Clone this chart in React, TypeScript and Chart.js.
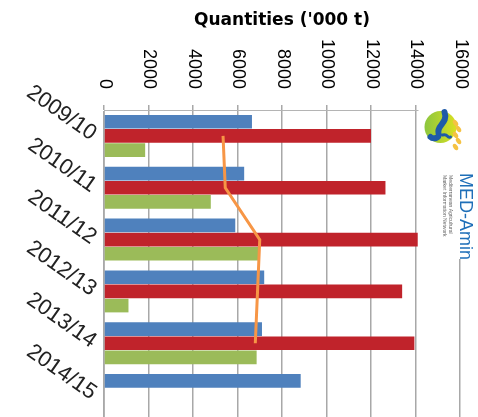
import React, { useEffect, useRef } from 'react';
import { Chart, registerables } from 'chart.js';

Chart.register(...registerables);

const categories = ['2009/10', '2010/11', '2011/12', '2012/13', '2013/14', '2014/15'];
const blueValues = [6650, 6300, 5900, 7200, 7100, 8840];
const redValues = [12000, 12650, 14100, 13400, 13950, null];
const greenValues = [1850, 4800, 7000, 1100, 6860, null];
const lineValues = [5350, 5450, 7000, 6900, 6800, null];
const xMin = 0;
const xMax = 16000;
const xStep = 2000;

const titleText = "Quantities ('000 t)";
const logoTitle = 'MED-Amin';
const logoSub1 = 'Mediterranean Agricultural';
const logoSub2 = 'Market Information Network';

const logoPlugin = {
  id: 'medAminLogo',
  afterDraw(chart: any) {
    const { ctx, chartArea, scales } = chart;
    const xs = scales.x;
    const left = xs.getPixelForValue(14000) + 3;
    const right = left + 55;
    const top = chartArea.top - 6;
    const bottom = chartArea.top + 149;
    ctx.save();
    ctx.fillStyle = '#ffffff';
    ctx.fillRect(left, top, right - left, bottom - top);
    const cx = left + 22;
    const cy = chartArea.top + 17;
    const r = 16;
    const g = ctx.createLinearGradient(cx - r, cy, cx + r, cy);
    g.addColorStop(0, '#8cc63f');
    g.addColorStop(1, '#d9e021');
    ctx.fillStyle = g;
    ctx.beginPath();
    ctx.arc(cx, cy, r, 0, Math.PI * 2);
    ctx.fill();
    ctx.strokeStyle = '#1e5aa8';
    ctx.lineWidth = 6;
    ctx.lineCap = 'round';
    ctx.beginPath();
    ctx.moveTo(cx + 4, cy - r + 1);
    ctx.bezierCurveTo(cx + 8, cy - 4, cx - 4, cy - 2, cx - 2, cy + 6);
    ctx.bezierCurveTo(cx, cy + 12, cx - 8, cy + 12, cx - 10, cy + 10);
    ctx.stroke();
    ctx.lineWidth = 3;
    ctx.beginPath();
    ctx.moveTo(cx + 2, cy + 8);
    ctx.bezierCurveTo(cx + 8, cy + 6, cx + 6, cy + 12, cx + 10, cy + 10);
    ctx.stroke();
    ctx.fillStyle = '#f5c242';
    for (let i = 0; i < 5; i++) {
      ctx.beginPath();
      ctx.ellipse(cx + r - 1 + (i % 2) * 3, cy - 4 + i * 6, 2.2, 3.5, -0.6, 0, Math.PI * 2);
      ctx.fill();
    }
    ctx.translate(right - 9, chartArea.top + 63);
    ctx.rotate(Math.PI / 2);
    ctx.fillStyle = '#1f6fb8';
    ctx.font = '18px "Liberation Sans", sans-serif';
    ctx.textAlign = 'left';
    ctx.textBaseline = 'middle';
    ctx.fillText(logoTitle, 0, 0);
    ctx.fillStyle = '#666666';
    ctx.font = '5px "Liberation Sans", sans-serif';
    ctx.fillText(logoSub1, 2, 14);
    ctx.fillText(logoSub2, 2, 20);
    ctx.restore();
  },
};

export default function App() {
  const ref = useRef<HTMLCanvasElement>(null);
  useEffect(() => {
    const chart = new Chart(ref.current as HTMLCanvasElement, {
      type: 'bar',
      data: {
        labels: categories,
        datasets: [
          { type: 'bar', label: 'A', data: blueValues, backgroundColor: '#4F81BD', order: 2 } as any,
          { type: 'bar', label: 'B', data: redValues, backgroundColor: '#C0232B', order: 2 } as any,
          { type: 'bar', label: 'C', data: greenValues, backgroundColor: '#9BBB59', order: 2 } as any,
          {
            type: 'line',
            label: 'D',
            data: lineValues,
            borderColor: '#F79646',
            backgroundColor: '#F79646',
            borderWidth: 3,
            pointRadius: 0,
            indexAxis: 'y',
            order: 1,
            tension: 0,
          } as any,
        ],
      },
      options: {
        responsive: false,
        animation: false,
        indexAxis: 'y',
        layout: { padding: { left: 0, right: 18, top: 0, bottom: 0 } },
        datasets: {
          bar: { categoryPercentage: 0.82, barPercentage: 0.96 },
        } as any,
        plugins: {
          legend: { display: false },
          tooltip: { enabled: false },
          title: {
            display: true,
            text: titleText,
            fullSize: false,
            color: '#000000',
            font: { family: '"DejaVu Sans", sans-serif', size: 17, weight: 'bold', lineHeight: '20px' } as any,
            padding: { top: 11, bottom: 0 },
          },
        },
        scales: {
          x: {
            position: 'top',
            min: xMin,
            max: xMax,
            ticks: {
              stepSize: xStep,
              autoSkip: false,
              minRotation: -90,
              maxRotation: -90,
              padding: 16,
              labelOffset: -21,
              color: '#000000',
              font: { family: '"Liberation Sans", sans-serif', size: 18 },
              callback: (v: any) => String(v),
            },
            grid: { color: '#a8a8a8', tickLength: 5, lineWidth: 1.5, tickWidth: 1.5, tickColor: '#a8a8a8', display: true, drawOnChartArea: true, drawTicks: true },
            border: { display: true, color: '#b4b4b4', width: 1 },
            afterFit: (s: any) => {
              s.height = 79;
              s.paddingLeft = 0;
              s.paddingRight = 0;
              s._getXAxisLabelAlignment = () => 'right';
            },
          } as any,
          y: {
            ticks: {
              minRotation: -35,
              maxRotation: -35,
              padding: 10,
              color: '#222222',
              font: { family: '"Liberation Sans", sans-serif', size: 22 },
            },
            grid: { display: false, drawTicks: false },
            border: { display: true, color: '#b4b4b4' },
            afterFit: (s: any) => {
              s.width = 104;
              s.paddingTop = 0;
              s.paddingBottom = 0;
            },
          } as any,
        },
      },
      plugins: [logoPlugin],
    });
    return () => chart.destroy();
  }, []);
  return (
    <div style={{ position: 'fixed', left: 0, top: 0, width: 478, height: 417, overflow: 'hidden', background: '#ffffff' }}>
      <canvas ref={ref} width={478} height={421} style={{ display: 'block', width: 478, height: 421 }} />
    </div>
  );
}
